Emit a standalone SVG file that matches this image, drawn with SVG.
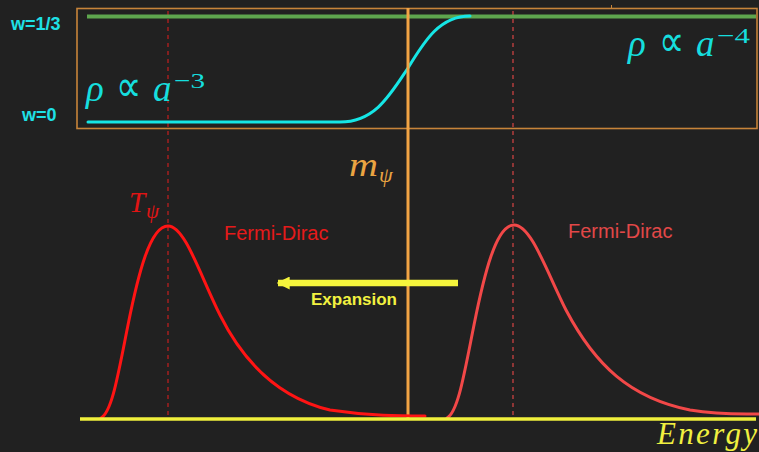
<svg xmlns="http://www.w3.org/2000/svg" width="759" height="452" viewBox="0 0 759 452">
<style>
.lbl{font-family:"Liberation Sans",Arial,sans-serif;}
.b{font-weight:bold;}
.math{font-family:"Liberation Serif","Times New Roman",serif;font-style:italic;}
.up{font-family:"Liberation Serif","Times New Roman",serif;font-style:normal;}
.dash{stroke-width:1.2;stroke-dasharray:4 4;fill:none;}
.curve{fill:none;stroke-width:3;stroke-linecap:round;stroke-linejoin:round;}
</style>
<defs>
<marker id="ah" viewBox="0 0 10 10" refX="9" refY="5" markerWidth="2" markerHeight="2" orient="auto" markerUnits="strokeWidth">
<path d="M0,0 L10,5 L0,10 Z" fill="#f5f53c"/>
</marker>
</defs>
<rect x="0" y="0" width="759" height="452" fill="#212121"/>

<g id="equation-of-state-box">
<rect x="77" y="8.5" width="680" height="120" fill="none" stroke="#c7843a" stroke-width="1.6"/>
<line x1="611.5" y1="5" x2="611.5" y2="8.5" stroke="#c7843a" stroke-width="1"/>
</g>

<g id="guides">
<line class="dash" x1="168" y1="11" x2="168" y2="418" stroke="#c41f1f"/>
<line class="dash" x1="513" y1="11" x2="513" y2="418" stroke="#d84444"/>
</g>

<g id="w-lines">
<line x1="87" y1="16.5" x2="756" y2="16.5" stroke="#5ea64e" stroke-width="4"/>
<path class="curve" d="M88,122 L340,122 C375,122 390,95 408,68 C425,40 440,16 470,16" stroke="#16e6e6"/>
</g>

<g id="m-psi-line">
<line x1="408" y1="8" x2="408" y2="419" stroke="#f2a444" stroke-width="3"/>
</g>

<g id="fermi-dirac-left">
<path class="curve" stroke="#ff1414" d="M101,418 C112,412 118,375 128,325 C138,275 150,226 168,226 C185,226 200,275 220,315 C245,365 280,398 330,410 C370,416 400,416 425,416"/>
<text class="lbl" x="224" y="240" font-size="20" fill="#e51a1a">Fermi-Dirac</text>
</g>

<g id="fermi-dirac-right">
<path class="curve" stroke="#f24848" d="M447,418 C458,412 464,375 474,325 C484,275 496,225 514,225 C531,225 546,270 566,310 C595,365 630,398 690,410 C720,415 740,414 759,414"/>
<text class="lbl" x="568" y="238" font-size="20" fill="#e24848">Fermi-Dirac</text>
</g>

<g id="connectors">
<line x1="458" y1="283" x2="278" y2="283" stroke="#f5f53c" stroke-width="6.5" marker-end="url(#ah)"/>
<line x1="80" y1="419" x2="756" y2="419" stroke="#f0f03c" stroke-width="3.5"/>
</g>

<g id="labels">
<text class="lbl b" x="11" y="30" font-size="18" fill="#1ee0e6">w=1/3</text>
<text class="lbl b" x="22" y="121" font-size="18" fill="#1ee0e6">w=0</text>
<text class="lbl b" x="311" y="305" font-size="17" fill="#f2f240">Expansion</text>

<g fill="#16dede">
<text class="math" x="86" y="101" font-size="37">ρ</text>
<text class="up" x="116" y="101" font-size="44" textLength="25" lengthAdjust="spacingAndGlyphs">∝</text>
<text class="math" x="153" y="101" font-size="37">a</text>
<text class="up" x="174" y="88" font-size="22" textLength="31" lengthAdjust="spacingAndGlyphs">−3</text>

<text class="math" x="628" y="56" font-size="37">ρ</text>
<text class="up" x="659" y="56" font-size="44" textLength="25" lengthAdjust="spacingAndGlyphs">∝</text>
<text class="math" x="696" y="56" font-size="37">a</text>
<text class="up" x="717" y="43" font-size="22" textLength="33" lengthAdjust="spacingAndGlyphs">−4</text>
</g>

<text class="math" x="349" y="176" font-size="34" fill="#eaa442" textLength="29" lengthAdjust="spacingAndGlyphs">m</text>
<text class="math" x="379" y="182" font-size="22" fill="#eaa442">ψ</text>

<text class="math" x="129" y="212" font-size="29" fill="#e01414">T</text>
<text class="math" x="146" y="218" font-size="21" fill="#e01414">ψ</text>

<text class="math" x="657" y="444" font-size="31" fill="#f0f040" textLength="100" lengthAdjust="spacing">Energy</text>
</g>
</svg>
